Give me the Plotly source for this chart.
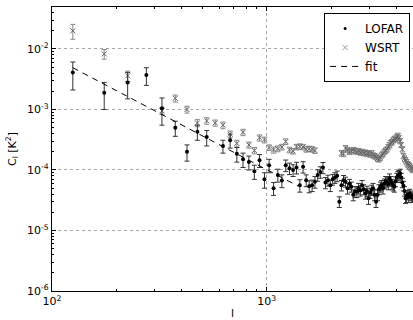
import plotly.graph_objects as go

ell = [125, 175, 225, 275, 325, 375, 425, 475, 525, 575,
       625, 675, 725, 775, 825, 875, 925, 975, 1025, 1075,
       1125, 1175, 1225, 1275, 1325, 1375, 1425, 1475, 1525, 1575,
       1625, 1675, 1725, 1775, 1825, 1875, 1925, 1975, 2025, 2075,
       2125, 2175, 2225, 2275, 2325, 2375, 2425, 2475, 2525, 2575,
       2625, 2675, 2725, 2775, 2825, 2875, 2925, 2975, 3025, 3075,
       3125, 3175, 3225, 3275, 3325, 3375, 3425, 3475, 3525, 3575,
       3625, 3675, 3725, 3775, 3825, 3875, 3925, 3975, 4025, 4075,
       4125, 4175, 4225, 4275, 4325, 4375, 4425, 4475, 4525, 4575,
       4625, 4675, 4725, 4775]

lofar_c = [4.1e-3, 1.9e-3, 2.8e-3, 3.7e-3, 1.05e-3, 5.0e-4, 2.0e-4, 4.3e-4, 3.5e-4, None,
           2.5e-4, 3.1e-4, 1.85e-4, 1.5e-4, 1.35e-4, 9.5e-5, 1.45e-4, 7.0e-5, 1.2e-4, 5.0e-5,
           8.3e-5, 6.7e-5, 1.2e-4, 1.07e-4, 1.0e-4, 1.1e-4, 5.6e-5, 1.13e-4, 6.8e-5, 5.4e-5,
           5.6e-5, 6.4e-5, 8.3e-5, 9.3e-5, 1.1e-4, 6.2e-5, 6.8e-5, 5.6e-5, 7.0e-5, 7.5e-5,
           8.0e-5, 3.0e-5, 5.6e-5, 6.8e-5, 6.4e-5, 5.0e-5, 5.9e-5, 5.3e-5, 3.9e-5, 4.4e-5,
           4.4e-5, 5.0e-5, 4.6e-5, 5.6e-5, 4.8e-5, 4.1e-5, 4.5e-5, 3.4e-5, 4.2e-5, 4.7e-5,
           5.0e-5, 3.9e-5, 3.0e-5, 3.9e-5, 4.8e-5, 5.3e-5, 5.6e-5, 5.0e-5, 6.0e-5, 6.6e-5,
           6.4e-5, 5.8e-5, 7.3e-5, 6.6e-5, 5.9e-5, 5.5e-5, 5.3e-5, 6.5e-5, 7.5e-5, 8.0e-5,
           8.3e-5, 8.8e-5, 7.5e-5, 6.2e-5, 5.5e-5, 4.5e-5, 3.4e-5, 3.6e-5, 3.9e-5, 3.6e-5,
           4.1e-5, 3.8e-5, 3.5e-5, 3.6e-5]

lofar_err = [2.0e-3, 0.9e-3, 1.3e-3, 1.2e-3, 0.5e-3, 1.4e-4, 0.6e-4, 1.2e-4, 1.0e-4, None,
             0.6e-4, 0.8e-4, 0.5e-4, 0.4e-4, 0.35e-4, 0.25e-4, 0.35e-4, 0.2e-4, 0.3e-4, 1.2e-5,
             2.0e-5, 1.6e-5, 2.6e-5, 2.3e-5, 2.2e-5, 2.4e-5, 1.3e-5, 2.4e-5, 1.5e-5, 1.2e-5,
             1.2e-5, 1.4e-5, 1.8e-5, 2.0e-5, 2.3e-5, 1.3e-5, 1.4e-5, 1.2e-5, 1.4e-5, 1.5e-5,
             1.6e-5, 0.6e-5, 1.1e-5, 1.3e-5, 1.2e-5, 1.0e-5, 1.1e-5, 1.0e-5, 0.8e-5, 0.9e-5,
             0.9e-5, 1.0e-5, 0.9e-5, 1.1e-5, 0.9e-5, 0.8e-5, 0.9e-5, 0.7e-5, 0.8e-5, 0.9e-5,
             1.0e-5, 0.8e-5, 0.6e-5, 0.8e-5, 0.9e-5, 1.0e-5, 1.1e-5, 1.0e-5, 1.1e-5, 1.2e-5,
             1.2e-5, 1.1e-5, 1.3e-5, 1.2e-5, 1.1e-5, 1.0e-5, 1.0e-5, 1.2e-5, 1.3e-5, 1.4e-5,
             1.5e-5, 1.5e-5, 1.3e-5, 1.1e-5, 1.0e-5, 0.8e-5, 0.6e-5, 0.7e-5, 0.7e-5, 0.7e-5,
             0.7e-5, 0.7e-5, 0.6e-5, 0.7e-5]

wsrt_c = [2.0e-2, 8.3e-3, 3.6e-3, None, 9.5e-4, 1.53e-3, 1.0e-3, 6.0e-4, 6.5e-4, 6.0e-4,
          5.5e-4, 3.9e-4, 2.75e-4, 4.2e-4, 2.6e-4, 2.1e-4, 3.4e-4, 3.15e-4, 2.35e-4, 2.15e-4,
          2.25e-4, 2.4e-4, 2.95e-4, 2.15e-4, 2.05e-4, 2.4e-4, 2.45e-4, 2.4e-4, 2.2e-4, 2.25e-4,
          2.2e-4, 2.1e-4, None, None, None, None, None, None, None, None,
          None, None, 1.9e-4, 1.85e-4, 2.3e-4, 2.15e-4, 2.0e-4, 2.05e-4, 2.15e-4, 2.1e-4,
          2.0e-4, 2.05e-4, 1.95e-4, 2.0e-4, 1.9e-4, 1.95e-4, 1.85e-4, 1.9e-4, 1.8e-4, 1.9e-4,
          1.75e-4, 1.7e-4, 1.65e-4, 1.55e-4, 1.5e-4, 1.6e-4, 1.75e-4, 1.85e-4, 2.0e-4, 2.1e-4,
          2.2e-4, 2.4e-4, 2.6e-4, 2.8e-4, 2.9e-4, 3.1e-4, 3.3e-4, 3.2e-4, 3.5e-4, 3.7e-4,
          3.4e-4, 3.0e-4, 2.6e-4, 2.2e-4, 1.7e-4, 1.55e-4, 1.45e-4, 1.35e-4, 1.25e-4, 1.2e-4,
          1.15e-4, 1.1e-4, 1.05e-4, 1.0e-4]

wsrt_err = [5.5e-3, 1.5e-3, 0.7e-3, None, 1.2e-4, 2.0e-4, 1.3e-4, 0.8e-4, 0.8e-4, 0.7e-4,
            0.7e-4, 0.5e-4, 0.35e-4, 0.5e-4, 0.3e-4, 0.25e-4, 0.4e-4, 0.35e-4, 0.25e-4, 0.25e-4,
            2.5e-5, 2.6e-5, 3.2e-5, 2.3e-5, 2.2e-5, 2.5e-5, 2.6e-5, 2.5e-5, 2.3e-5, 2.3e-5,
            2.3e-5, 2.2e-5, None, None, None, None, None, None, None, None,
            None, None, 2.0e-5, 1.9e-5, 2.4e-5, 2.2e-5, 2.0e-5, 2.1e-5, 2.2e-5, 2.1e-5,
            2.0e-5, 2.1e-5, 2.0e-5, 2.0e-5, 1.9e-5, 2.0e-5, 1.9e-5, 1.9e-5, 1.8e-5, 1.9e-5,
            1.8e-5, 1.7e-5, 1.7e-5, 1.6e-5, 1.5e-5, 1.6e-5, 1.8e-5, 1.9e-5, 2.0e-5, 2.1e-5,
            2.2e-5, 2.4e-5, 2.6e-5, 2.8e-5, 2.9e-5, 3.1e-5, 3.3e-5, 3.2e-5, 3.5e-5, 3.7e-5,
            3.4e-5, 3.0e-5, 2.6e-5, 2.2e-5, 1.7e-5, 1.6e-5, 1.5e-5, 1.4e-5, 1.3e-5, 1.2e-5,
            1.2e-5, 1.1e-5, 1.1e-5, 1.0e-5]

fit_l = [125, 1400]
fit_c = [4.9e-3, 5.4e-5]

x_major = [100, 1000]
x_major_text = ["10<sup>2</sup>", "10<sup>3</sup>"]
y_major = [1e-6, 1e-5, 1e-4, 1e-3, 1e-2]
y_major_text = ["10<sup>-6</sup>", "10<sup>-5</sup>", "10<sup>-4</sup>", "10<sup>-3</sup>", "10<sup>-2</sup>"]
x_minor = [200, 300, 400, 500, 600, 700, 800, 900, 2000, 3000, 4000]
y_minor = [m * 10.0 ** e for e in (-6, -5, -4, -3, -2) for m in range(2, 10)]


def keep(xs, ys, es):
    out = [(x, y, e) for x, y, e in zip(xs, ys, es) if y is not None]
    return [o[0] for o in out], [o[1] for o in out], [o[2] for o in out]


lx, ly, le = keep(ell, lofar_c, lofar_err)
wx, wy, we = keep(ell, wsrt_c, wsrt_err)

font = "DejaVu Sans"
fig = go.Figure()
fig.add_trace(go.Scatter(
    x=wx, y=wy, mode="markers", name="WSRT",
    marker=dict(symbol="x-thin", size=5, color="#666", line=dict(width=1, color="#666")),
    error_y=dict(type="data", array=we, color="#888", thickness=1, width=2.5),
    showlegend=False))
fig.add_trace(go.Scatter(
    x=lx, y=ly, mode="markers", name="LOFAR",
    marker=dict(symbol="circle", size=4, color="black"),
    error_y=dict(type="data", array=le, color="#333", thickness=1, width=2.5),
    showlegend=False))
fig.add_trace(go.Scatter(
    x=fit_l, y=fit_c, mode="lines", name="fit",
    line=dict(color="black", width=1, dash="6px,5px"), showlegend=False))

# legend entries (markers only, as in original)
fig.add_trace(go.Scatter(x=[None], y=[None], mode="markers", name="LOFAR",
                         marker=dict(symbol="circle", size=3, color="black")))
fig.add_trace(go.Scatter(x=[None], y=[None], mode="markers", name="WSRT",
                         marker=dict(symbol="x-thin", size=5, color="#999",
                                     line=dict(width=1, color="#999"))))
fig.add_trace(go.Scatter(x=[None], y=[None], mode="lines", name="fit",
                         line=dict(color="black", width=1, dash="6px,5px")))

fig.update_layout(
    width=413, height=320,
    margin=dict(l=52, r=0, t=7, b=29),
    paper_bgcolor="white", plot_bgcolor="white",
    font=dict(family=font, size=11, color="black"),
    legend=dict(x=0.992, y=0.979, xanchor="right", yanchor="top",
                bgcolor="white", bordercolor="black", borderwidth=1,
                font=dict(size=12, family=font), tracegroupgap=0, itemwidth=30),
    annotations=[
        dict(text="l", x=0.5, y=0, xref="paper", yref="paper", yanchor="top",
             yshift=-14, showarrow=False, font=dict(size=11, family=font)),
        dict(text="C<sub>l</sub> [K<sup>2</sup>]", textangle=-90, x=0, y=0.5,
             xanchor="center", xshift=-40,
             xref="paper", yref="paper", showarrow=False, font=dict(size=11, family=font)),
    ],
)

fig.update_xaxes(
    type="log", range=[2, 3.6805], showline=True, linecolor="black", linewidth=1.2,
    mirror="ticks", ticks="inside", ticklen=4, tickcolor="black",
    tickvals=x_major, ticktext=x_major_text, tickfont=dict(size=11),
    showgrid=True, gridcolor="#aaa", griddash="dot", gridwidth=1,
    minor=dict(tickvals=x_minor, ticks="inside", ticklen=2, tickcolor="black", showgrid=False),
    zeroline=False, automargin=False)
fig.update_yaxes(
    type="log", range=[-6, -1.306], showline=True, linecolor="black", linewidth=1.2,
    mirror=False, ticks="inside", ticklen=4, tickcolor="black",
    tickvals=y_major, ticktext=y_major_text, tickfont=dict(size=11),
    showgrid=True, gridcolor="#aaa", griddash="dot", gridwidth=1,
    minor=dict(tickvals=y_minor, ticks="inside", ticklen=2, tickcolor="black", showgrid=False),
    zeroline=False, automargin=False)

fig.write_html("out.html")
